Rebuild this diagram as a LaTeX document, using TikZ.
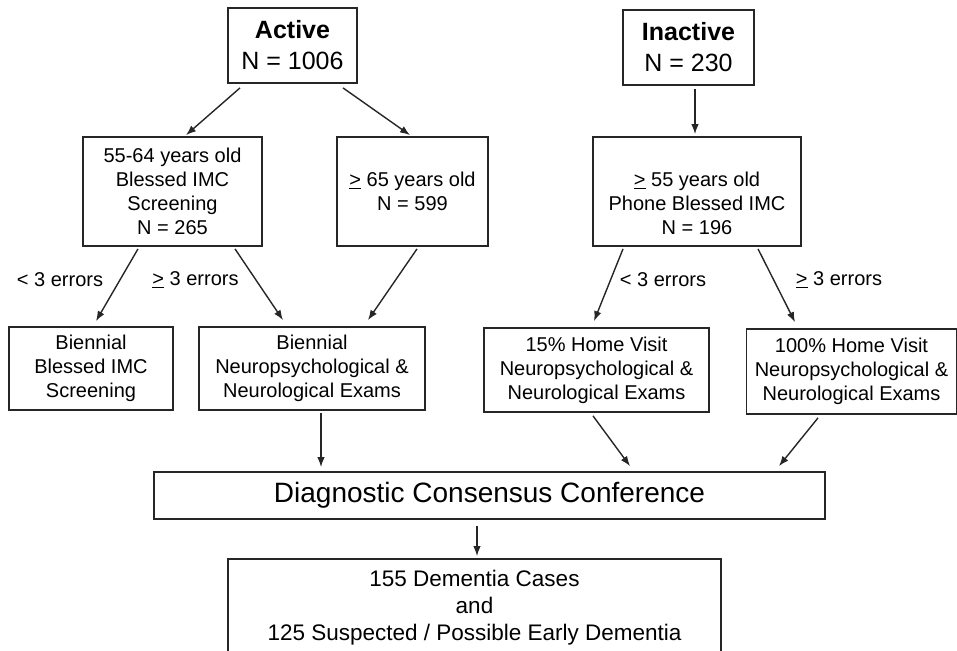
\documentclass[tikz,border=0pt]{standalone}
\usepackage{fontspec}
\setmainfont{Liberation Sans}
\usetikzlibrary{arrows.meta}
\tikzset{
  box/.style={draw=black!85, line width=1.8pt, align=center, inner sep=2pt,
    font=\fontsize{20}{24}\selectfont},
  lbl/.style={font=\fontsize{20}{24}\selectfont, inner sep=0pt},
  arr/.style={-{Latex[length=10pt,width=7.5pt]}, line width=1.4pt, black!85}
}
\begin{document}
\begin{tikzpicture}[x=1pt,y=-1pt]
        \useasboundingbox (0,0) rectangle (957,650);
        % Top level
        \node[box, minimum width=129pt, minimum height=75pt, font=\fontsize{25}{31}\selectfont] (act) at (292.5,45.5) {\textbf{Active}\\N = 1006};
        \node[box, minimum width=131pt, minimum height=75pt, font=\fontsize{25}{31}\selectfont] (inact) at (688.5,47.5) {\textbf{Inactive}\\N = 230};
        
        % Age groups
        \node[box, minimum width=179pt, minimum height=109pt] (young) at (172.5,191.5) {55-64 years old\\Blessed IMC\\Screening\\N = 265};
        \node[box, minimum width=151pt, minimum height=109pt] (old) at (412.5,191.5) {\underline{>} 65 years old\\N = 599};
        \node[box, minimum width=208pt, minimum height=109pt] (phone) at (697,191.5) {\strut\\[-3pt]\underline{>} 55 years old\\Phone Blessed IMC\\N = 196};
        
        % Follow-up
        \node[box, minimum width=164pt, minimum height=83pt] (screen) at (91,368.5) {Biennial\\Blessed IMC\\Screening};
        \node[box, minimum width=226pt, minimum height=83pt] (exams) at (312,368.5) {Biennial\\Neuropsychological \&\\Neurological Exams};
        \node[box, minimum width=225pt, minimum height=84pt] (visit15) at (596.5,370) {15\% Home Visit\\Neuropsychological \&\\Neurological Exams};
        \node[box, minimum width=210pt, minimum height=85pt] (visit100) at (851.5,371.5) {100\% Home Visit\\Neuropsychological \&\\Neurological Exams};
        
        % Consensus and outcome
        \node[box, minimum width=671pt, minimum height=47pt, font=\fontsize{28}{32}\selectfont] (conf) at (489.5,495.5) {Diagnostic Consensus Conference};
        \node[box, minimum width=493pt, minimum height=98pt, font=\fontsize{22.5}{27}\selectfont] (cases) at (474.5,608) {155 Dementia Cases\\and\\125 Suspected / Possible Early Dementia};
        
        % Error labels
        \node[lbl] (low1) at (60,280) {< 3 errors};
        \node[lbl] (high1) at (195.5,280) {\underline{>} 3 errors};
        \node[lbl] (low2) at (663,280) {< 3 errors};
        \node[lbl] (high2) at (839,280) {\underline{>} 3 errors};
        
        % Arrows
        \draw[arr] ([xshift=-52.5pt,yshift=-4pt]act.south) -- ([xshift=13.5pt,yshift=1pt]young.north);
        \draw[arr] ([xshift=50.5pt,yshift=-4pt]act.south) -- ([xshift=-2.5pt,yshift=1pt]old.north);
        \draw[arr] ([xshift=6.5pt,yshift=-3pt]inact.south) -- ([xshift=-2pt,yshift=2pt]phone.north);
        \draw[arr] ([xshift=-34.5pt,yshift=-2pt]young.south) -- ([xshift=5pt,yshift=5pt]screen.north);
        \draw[arr] ([xshift=62.5pt,yshift=-2pt]young.south) -- ([xshift=-29pt,yshift=6pt]exams.north);
        \draw[arr] ([xshift=4.5pt,yshift=-2pt]old.south) -- ([xshift=56pt,yshift=6pt]exams.north);
        \draw[arr] ([xshift=-74pt,yshift=-2pt]phone.south) -- ([xshift=-2.5pt,yshift=6pt]visit15.north);
        \draw[arr] ([xshift=61pt,yshift=-2pt]phone.south) -- ([xshift=-56.5pt,yshift=6pt]visit100.north);
        \draw[arr] ([xshift=9pt,yshift=-2pt]exams.south) -- ([xshift=-168.5pt,yshift=4pt]conf.north);
        \draw[arr] ([xshift=-3.5pt,yshift=-3pt]visit15.south) -- ([xshift=140.5pt,yshift=5pt]conf.north);
        \draw[arr] ([xshift=-33.5pt,yshift=-3pt]visit100.south) -- ([xshift=289.5pt,yshift=5pt]conf.north);
        \draw[arr] ([xshift=-12.5pt,yshift=-6pt]conf.south) -- ([xshift=2.5pt,yshift=2pt]cases.north);
\end{tikzpicture}
\end{document}
